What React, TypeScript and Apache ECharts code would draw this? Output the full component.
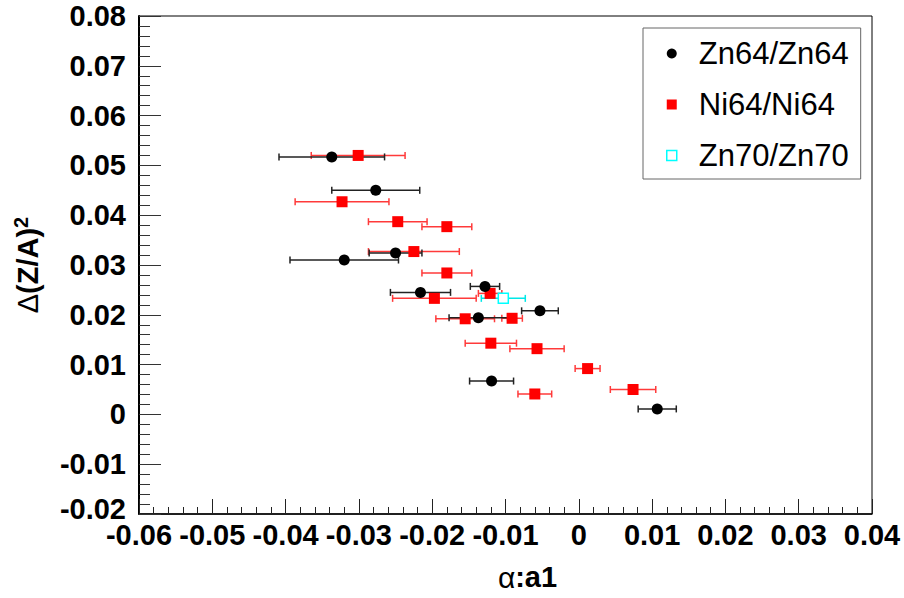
import React, { useEffect, useRef } from "react";
import * as echarts from "echarts";

const zn64X = [-0.0337, -0.0277, -0.025, -0.032, -0.0128, -0.0216, -0.0053, -0.0137, -0.0119, 0.0107];
const zn64Y = [0.0517, 0.045, 0.0324, 0.031, 0.0257, 0.0245, 0.0208, 0.0194, 0.0067, 0.0011];
const zn64Err = [0.0072, 0.006, 0.0036, 0.0074, 0.002, 0.0041, 0.0025, 0.004, 0.003, 0.0026];

const ni64X = [-0.0301, -0.0323, -0.0247, -0.018, -0.0225, -0.018, -0.0121, -0.0197, -0.0155, -0.0091, -0.012, -0.0057, 0.0012, 0.0074, -0.006];
const ni64Y = [0.052, 0.0427, 0.0387, 0.0377, 0.0327, 0.0284, 0.0243, 0.0233, 0.0192, 0.0193, 0.0143, 0.0132, 0.0092, 0.005, 0.0041];
const ni64Err = [0.0064, 0.0064, 0.004, 0.0034, 0.0062, 0.0034, 0.0016, 0.0057, 0.004, 0.0014, 0.0035, 0.0037, 0.0017, 0.0031, 0.0023];

const zn70X = [-0.0103];
const zn70Y = [0.0233];
const zn70Err = [0.003];

const seriesNames = ["Zn64/Zn64", "Ni64/Ni64", "Zn70/Zn70"];

const FONT = "Liberation Sans, Arial, Helvetica, sans-serif";

function rows(xs: number[], ys: number[], es: number[]) {
  return xs.map((x, i) => [x, ys[i], es[i]]);
}

function errorSeries(data: number[][], color: string) {
  return {
    type: "custom",
    silent: true,
    z: 1,
    data,
    encode: { x: 0, y: 1 },
    renderItem: (params: any, api: any) => {
      const x = api.value(0);
      const y = api.value(1);
      const e = api.value(2);
      const p1 = api.coord([x - e, y]);
      const p2 = api.coord([x + e, y]);
      const h = 3.5;
      const style = { stroke: color, lineWidth: 1.5 };
      return {
        type: "group",
        children: [
          { type: "line", shape: { x1: p1[0], y1: p1[1], x2: p2[0], y2: p2[1] }, style },
          { type: "line", shape: { x1: p1[0], y1: p1[1] - h, x2: p1[0], y2: p1[1] + h }, style },
          { type: "line", shape: { x1: p2[0], y1: p2[1] - h, x2: p2[0], y2: p2[1] + h }, style },
        ],
      };
    },
  };
}

function fmt(v: number) {
  const r = Math.round(v * 100) / 100;
  if (Math.abs(r) < 1e-9) return "0";
  return r.toFixed(2);
}

function fmtY(v: number) {
  const s = fmt(v);
  if (Math.abs(v + 0.02) < 1e-9) return "{lo|" + s + "}";
  return s;
}

export default function App() {
  const ref = useRef<HTMLDivElement>(null);
  useEffect(() => {
    if (!ref.current) return;
    const chart = echarts.init(ref.current, undefined, { renderer: "svg" });
    const zn64 = rows(zn64X, zn64Y, zn64Err);
    const ni64 = rows(ni64X, ni64Y, ni64Err);
    const zn70 = rows(zn70X, zn70Y, zn70Err);
    chart.setOption({
      animation: false,
      backgroundColor: "#ffffff",
      grid: {
        left: 139,
        right: 32,
        top: 16,
        bottom: 84,
        show: true,
        borderColor: "#000",
        borderWidth: 1,
        containLabel: false,
      },
      legend: {
        orient: "vertical",
        left: 643,
        top: 28,
        padding: [10, 12, 8, 23],
        itemWidth: 10,
        itemHeight: 10,
        itemGap: 20,
        borderColor: "#666",
        borderWidth: 1,
        backgroundColor: "#fff",
        textStyle: {
          fontFamily: FONT,
          fontSize: 31,
          color: "#000",
          lineHeight: 31,
          padding: [0, 0, 0, 17],
        },
        data: [
          { name: seriesNames[0], icon: "circle", itemStyle: { color: "#000", borderWidth: 0 } },
          { name: seriesNames[1], icon: "rect", itemStyle: { color: "#ff0000", borderWidth: 0 } },
          {
            name: seriesNames[2],
            icon: "rect",
            itemStyle: { color: "#fff", borderColor: "#00ffff", borderWidth: 1.5 },
          },
        ],
      },
      xAxis: {
        type: "value",
        min: -0.06,
        max: 0.04,
        interval: 0.01,
        name: "{g|α}:a1",
        nameLocation: "middle",
        nameGap: 48,
        nameTextStyle: {
          fontFamily: FONT,
          fontSize: 29,
          fontWeight: "bold",
          color: "#000",
          padding: [0, 0, 0, 44],
          rich: { g: { fontFamily: FONT, fontSize: 30, fontWeight: "normal", color: "#000" } },
        },
        axisLine: { show: true, onZero: false, lineStyle: { color: "#000", width: 1.5 } },
        axisTick: { show: true, inside: true, length: 15, lineStyle: { color: "#222", width: 1 } },
        minorTick: { show: true, splitNumber: 5, length: 7, lineStyle: { color: "#222", width: 1 } },
        splitLine: { show: false },
        minorSplitLine: { show: false },
        axisLabel: {
          fontFamily: FONT,
          fontSize: 29,
          fontWeight: "bold",
          color: "#000",
          lineHeight: 22,
          margin: 10,
          formatter: fmt,
          showMinLabel: true,
          showMaxLabel: true,
        },
      },
      yAxis: {
        type: "value",
        min: -0.02,
        max: 0.08,
        interval: 0.01,
        name: "{d|Δ}{m|(Z/A)}{s|2}",
        nameLocation: "middle",
        nameGap: 94,
        nameRotate: 90,
        nameTextStyle: {
          fontFamily: FONT,
          fontSize: 29,
          fontWeight: "bold",
          color: "#000",
          rich: {
            d: { fontFamily: FONT, fontSize: 29, fontWeight: "normal", color: "#000", lineHeight: 34 },
            m: { fontFamily: FONT, fontSize: 29, fontWeight: "bold", color: "#000", lineHeight: 34 },
            s: {
              fontFamily: FONT,
              fontSize: 20,
              fontWeight: "bold",
              color: "#000",
              lineHeight: 20,
              verticalAlign: "top",
            },
          },
        },
        axisLine: { show: true, onZero: false, lineStyle: { color: "#000", width: 2 } },
        axisTick: { show: true, inside: true, length: 22, lineStyle: { color: "#333", width: 1 } },
        minorTick: { show: true, splitNumber: 5, length: 11, lineStyle: { color: "#333", width: 1 } },
        splitLine: { show: false },
        minorSplitLine: { show: false },
        axisLabel: {
          fontFamily: FONT,
          fontSize: 29,
          fontWeight: "bold",
          color: "#000",
          lineHeight: 22,
          margin: 13,
          formatter: fmtY,
          showMinLabel: true,
          showMaxLabel: true,
          rich: {
            lo: {
              fontFamily: FONT,
              fontSize: 29,
              fontWeight: "bold",
              color: "#000",
              lineHeight: 22,
              padding: [0, 0, 10, 0],
            },
          },
        },
      },
      series: [
        errorSeries(ni64, "#ff3a3a"),
        errorSeries(zn64, "#222222"),
        errorSeries(zn70, "#00e8e8"),
        {
          name: seriesNames[1],
          type: "scatter",
          symbol: "rect",
          symbolSize: 11,
          z: 3,
          data: ni64.map((d) => [d[0], d[1]]),
          itemStyle: { color: "#ff0000", opacity: 1 },
        },
        {
          name: seriesNames[0],
          type: "scatter",
          symbol: "circle",
          symbolSize: 11,
          z: 4,
          data: zn64.map((d) => [d[0], d[1]]),
          itemStyle: { color: "#000000", opacity: 1 },
        },
        {
          name: seriesNames[2],
          type: "scatter",
          symbol: "rect",
          symbolSize: 10,
          z: 5,
          data: zn70.map((d) => [d[0], d[1]]),
          itemStyle: { color: "#ffffff", borderColor: "#00ffff", borderWidth: 1.5, opacity: 1 },
        },
      ],
    });
    return () => chart.dispose();
  }, []);
  return (
    <div
      ref={ref}
      style={{ position: "fixed", left: 0, top: 0, width: 904, height: 598, background: "#fff" }}
    />
  );
}
